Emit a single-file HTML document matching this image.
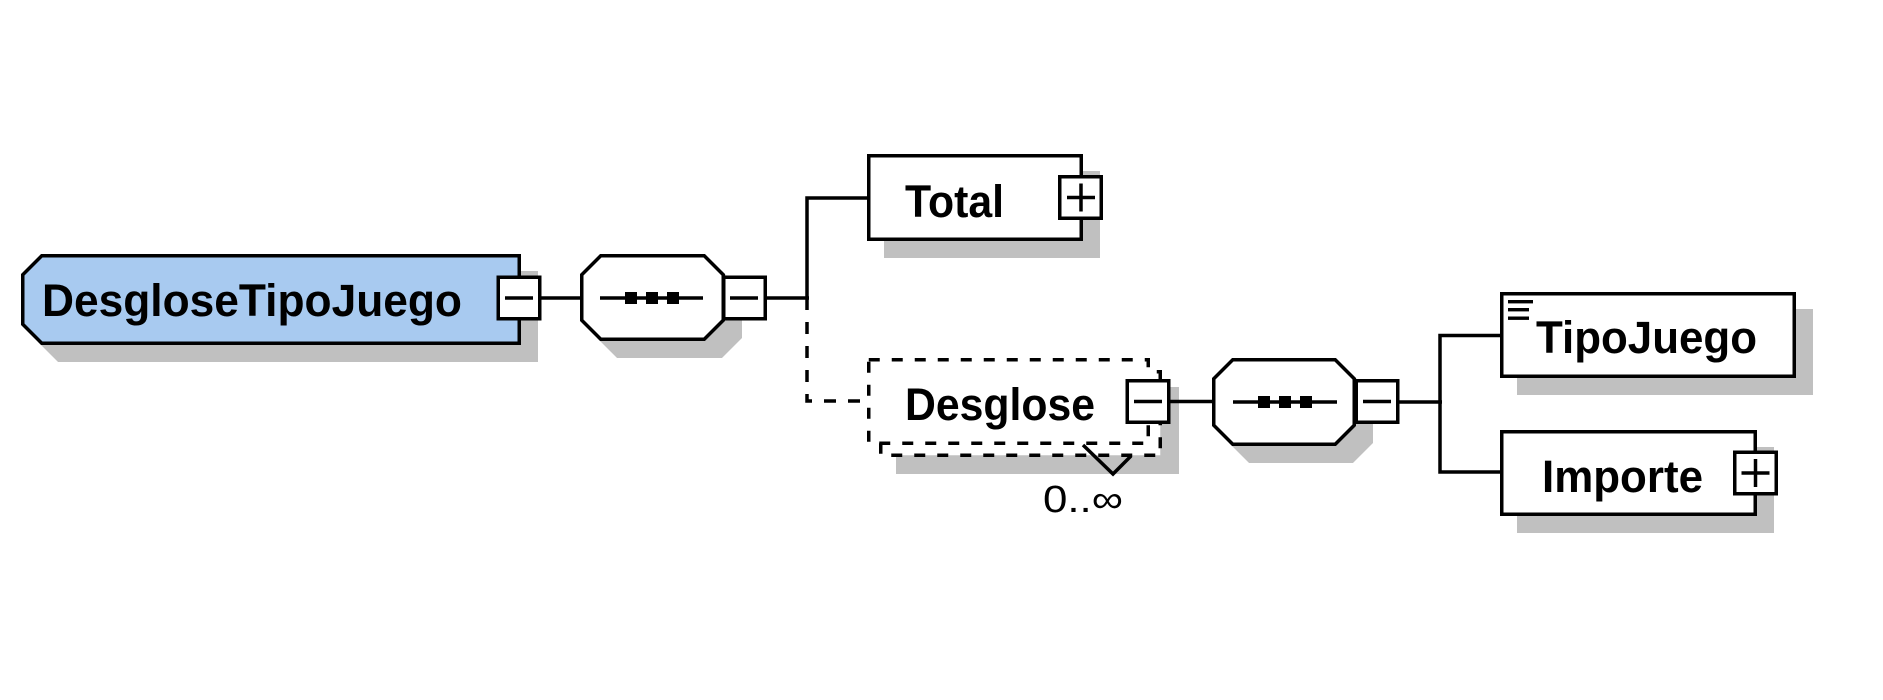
<!DOCTYPE html>
<html>
<head>
<meta charset="utf-8">
<style>
  html, body { margin: 0; padding: 0; background: #ffffff; }
  body { width: 1883px; height: 700px; overflow: hidden; }
  svg { display: block; }
  .b { font-family: "Liberation Sans", "DejaVu Sans", sans-serif; font-weight: bold; font-size: 45px; fill: #000; }
  .r { font-family: "Liberation Sans", "DejaVu Sans", sans-serif; font-size: 38px; fill: #000; }
</style>
</head>
<body>
<svg width="1883" height="700" viewBox="0 0 1883 700" xmlns="http://www.w3.org/2000/svg">
  <rect x="0" y="0" width="1883" height="700" fill="#ffffff"/>

  <!-- ===== Shadows ===== -->
  <g fill="#c0c0c0" stroke="#c0c0c0" stroke-width="3.5" transform="translate(17,17)">
    <!-- DesgloseTipoJuego -->
    <path d="M41.75 255.75 H519.25 V343.25 H41.75 L22.75 324.25 V274.75 Z"/>
    <!-- octagon 1 -->
    <path d="M600.75 255.75 H704.25 L723.25 274.75 V320.25 L704.25 339.25 H600.75 L581.75 320.25 V274.75 Z"/>
    <!-- Total -->
    <rect x="868.75" y="155.75" width="212.5" height="83.5"/>
    <!-- Desglose (back box) -->
    <rect x="880.75" y="371.75" width="279.5" height="83.5"/>
    <!-- octagon 2 -->
    <path d="M1232.75 359.75 H1335.25 L1354.25 378.75 V425.25 L1335.25 444.25 H1232.75 L1213.75 425.25 V378.75 Z"/>
    <!-- TipoJuego -->
    <rect x="1501.75" y="293.75" width="292.5" height="82.5"/>
    <!-- Importe -->
    <rect x="1501.75" y="431.75" width="253.5" height="82.5"/>
  </g>

  <!-- ===== Connectors ===== -->
  <g stroke="#000" stroke-width="3.5" fill="none">
    <line x1="540" y1="298" x2="582" y2="298"/>
    <line x1="765" y1="298" x2="809" y2="298"/>
    <polyline points="807,298 807,198 869,198"/>
    <polyline points="807,298 807,401 869,401" stroke-dasharray="12 12"/>
    <line x1="1169" y1="401.5" x2="1214" y2="401.5"/>
    <line x1="1398" y1="402" x2="1442" y2="402"/>
    <polyline points="1502,335.5 1440,335.5 1440,472 1502,472"/>
  </g>

  <!-- ===== DesgloseTipoJuego ===== -->
  <path d="M41.75 255.75 H519.25 V343.25 H41.75 L22.75 324.25 V274.75 Z" fill="#a8caf0" stroke="#000" stroke-width="3.5"/>
  <text class="b" x="42" y="316" textLength="420" lengthAdjust="spacingAndGlyphs">DesgloseTipoJuego</text>
  <!-- minus box 1 -->
  <rect x="498.25" y="277.25" width="41.5" height="41.5" fill="#fff" stroke="#000" stroke-width="3.5"/>
  <line x1="505" y1="298" x2="533" y2="298" stroke="#000" stroke-width="3.5"/>

  <!-- ===== Octagon 1 (sequence) ===== -->
  <path d="M600.75 255.75 H704.25 L723.25 274.75 V320.25 L704.25 339.25 H600.75 L581.75 320.25 V274.75 Z" fill="#fff" stroke="#000" stroke-width="3.5"/>
  <line x1="600" y1="298" x2="703" y2="298" stroke="#000" stroke-width="3.5"/>
  <rect x="625" y="292" width="12" height="12" fill="#000"/>
  <rect x="646" y="292" width="12" height="12" fill="#000"/>
  <rect x="667" y="292" width="12" height="12" fill="#000"/>
  <!-- minus box 2 -->
  <rect x="723.75" y="277.25" width="41.5" height="41.5" fill="#fff" stroke="#000" stroke-width="3.5"/>
  <line x1="730" y1="298" x2="758" y2="298" stroke="#000" stroke-width="3.5"/>

  <!-- ===== Total ===== -->
  <rect x="868.75" y="155.75" width="212.5" height="83.5" fill="#fff" stroke="#000" stroke-width="3.5"/>
  <text class="b" x="905" y="217" textLength="99" lengthAdjust="spacingAndGlyphs">Total</text>
  <rect x="1059.75" y="176.75" width="41.5" height="41.5" fill="#fff" stroke="#000" stroke-width="3.5"/>
  <line x1="1067" y1="197.5" x2="1095" y2="197.5" stroke="#000" stroke-width="3.5"/>
  <line x1="1081" y1="183.5" x2="1081" y2="211.5" stroke="#000" stroke-width="3.5"/>

  <!-- ===== Desglose (0..unbounded) ===== -->
  <rect x="880.75" y="371.75" width="279.5" height="83.5" fill="#fff" stroke="#000" stroke-width="3.5" stroke-dasharray="11 12"/>
  <rect x="868.75" y="359.75" width="279.5" height="83.5" fill="#fff" stroke="#000" stroke-width="3.5" stroke-dasharray="11 12"/>
  <polyline points="1083,445 1113,474 1131,456" fill="none" stroke="#000" stroke-width="3.5"/>
  <text class="b" x="905" y="420" textLength="190" lengthAdjust="spacingAndGlyphs">Desglose</text>
  <rect x="1127.25" y="380.75" width="41.5" height="41.5" fill="#fff" stroke="#000" stroke-width="3.5"/>
  <line x1="1134" y1="401.5" x2="1162" y2="401.5" stroke="#000" stroke-width="3.5"/>
  <text class="r" x="1043" y="512" textLength="80" lengthAdjust="spacingAndGlyphs">0..∞</text>

  <!-- ===== Octagon 2 (sequence) ===== -->
  <path d="M1232.75 359.75 H1335.25 L1354.25 378.75 V425.25 L1335.25 444.25 H1232.75 L1213.75 425.25 V378.75 Z" fill="#fff" stroke="#000" stroke-width="3.5"/>
  <line x1="1233" y1="402" x2="1337" y2="402" stroke="#000" stroke-width="3.5"/>
  <rect x="1258" y="396" width="12" height="12" fill="#000"/>
  <rect x="1279" y="396" width="12" height="12" fill="#000"/>
  <rect x="1300" y="396" width="12" height="12" fill="#000"/>
  <rect x="1356.25" y="380.75" width="41.5" height="41.5" fill="#fff" stroke="#000" stroke-width="3.5"/>
  <line x1="1363" y1="401.5" x2="1391" y2="401.5" stroke="#000" stroke-width="3.5"/>

  <!-- ===== TipoJuego ===== -->
  <rect x="1501.75" y="293.75" width="292.5" height="82.5" fill="#fff" stroke="#000" stroke-width="3.5"/>
  <rect x="1508" y="300" width="25" height="3.4" fill="#000"/>
  <rect x="1508" y="308" width="21" height="3.4" fill="#000"/>
  <rect x="1508" y="316.5" width="21" height="3.4" fill="#000"/>
  <text class="b" x="1536" y="353" textLength="221" lengthAdjust="spacingAndGlyphs">TipoJuego</text>

  <!-- ===== Importe ===== -->
  <rect x="1501.75" y="431.75" width="253.5" height="82.5" fill="#fff" stroke="#000" stroke-width="3.5"/>
  <text class="b" x="1542" y="492" textLength="161" lengthAdjust="spacingAndGlyphs">Importe</text>
  <rect x="1734.75" y="452.25" width="41.5" height="41.5" fill="#fff" stroke="#000" stroke-width="3.5"/>
  <line x1="1741.5" y1="473" x2="1769.5" y2="473" stroke="#000" stroke-width="3.5"/>
  <line x1="1755.5" y1="459" x2="1755.5" y2="487" stroke="#000" stroke-width="3.5"/>
</svg>
</body>
</html>
